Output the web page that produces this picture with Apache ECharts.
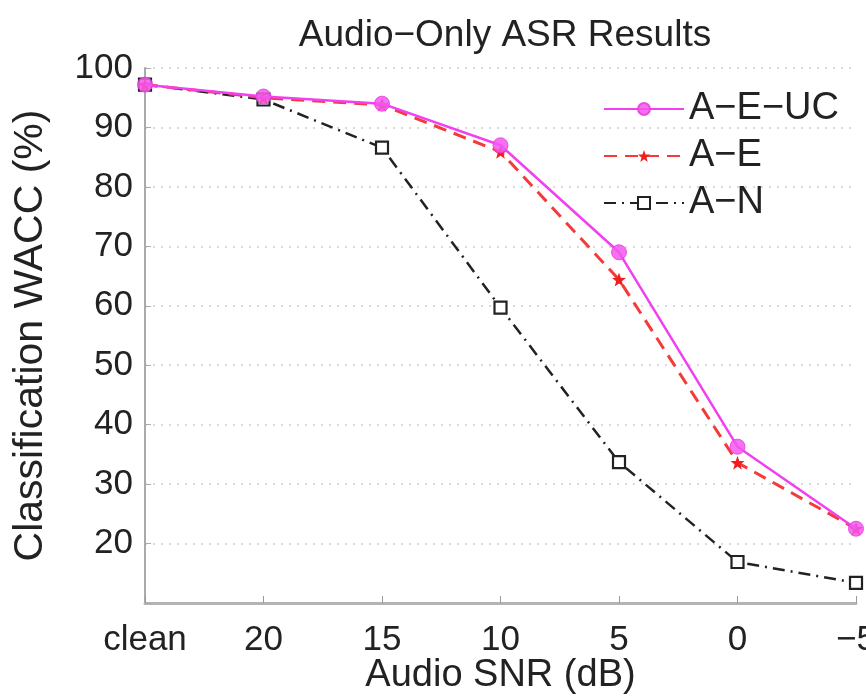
<!DOCTYPE html>
<html>
<head>
<meta charset="utf-8">
<script src="https://cdn.jsdelivr.net/npm/echarts@6/dist/echarts.min.js"></script>
<style>html,body{margin:0;padding:0;background:#fff}#c{width:866px;height:696px}</style>
</head>
<body>
<div id="c"></div>
<script>
const categories = ['clean', '20', '15', '10', '5', '0', '\u22125'];
const aeuc = [97.2, 95.2, 94.0, 87.0, 69.0, 36.3, 22.5];
const ae = [97.2, 95.0, 93.8, 85.9, 64.4, 33.6, 22.5];
const an = [97.2, 94.7, 86.6, 59.7, 33.7, 16.9, 13.4];
const yTicks = [20, 30, 40, 50, 60, 70, 80, 90, 100];

const FONT = '"Liberation Sans", Arial, sans-serif';
const starPath = 'path://M0,-10 L2.4,-3.3 L9.5,-3.1 L3.9,1.3 L5.9,8.1 L0,4.1 L-5.9,8.1 L-3.9,1.3 L-9.5,-3.1 L-2.4,-3.3 Z';

const chart = echarts.init(document.getElementById('c'), null, {renderer: 'canvas'});
chart.setOption({
  backgroundColor: '#fff',
  animation: false,
  title: {
    text: 'Audio\u2212Only ASR Results',
    left: 500, top: 11, textAlign: 'center',
    textStyle: {fontFamily: FONT, fontSize: 37, fontWeight: 'normal', color: '#222', lineHeight: 40}
  },
  legend: {
    orient: 'vertical', left: 598, top: 85, itemGap: 9,
    itemWidth: 80, itemHeight: 15,
    textStyle: {fontFamily: FONT, fontSize: 38, color: '#222', lineHeight: 38, padding: [0, 0, 0, 0]},
    data: ['A\u2212E\u2212UC', 'A\u2212E', 'A\u2212N']
  },
  grid: {left: 145, right: 10, top: 68, bottom: 93, containLabel: false, outerBoundsMode: 'none'},
  xAxis: {
    type: 'category', data: categories, boundaryGap: false,
    name: 'Audio SNR (dB)', nameLocation: 'middle', nameGap: 54, nameMoveOverlap: false,
    nameTextStyle: {fontFamily: FONT, fontSize: 38, color: '#222'},
    axisLine: {lineStyle: {color: '#b4b4b4', width: 3}},
    axisTick: {inside: true, length: 7, lineStyle: {color: '#999'}},
    axisLabel: {fontFamily: FONT, fontSize: 35, color: '#222', margin: 20},
    splitLine: {show: false}
  },
  yAxis: {
    type: 'value', min: 10, max: 100, interval: 10,
    name: 'Classification WACC (%)', nameLocation: 'middle', nameGap: 94, nameMoveOverlap: false,
    nameTextStyle: {fontFamily: FONT, fontSize: 41, color: '#222'},
    axisLine: {show: true, lineStyle: {color: '#aaa', width: 2}},
    axisTick: {show: true, inside: true, length: 6, lineStyle: {color: '#aaa'}},
    axisLabel: {
      fontFamily: FONT, fontSize: 35, color: '#222', margin: 12,
      formatter: v => (yTicks.indexOf(v) >= 0 ? String(v) : '')
    },
    splitLine: {show: true, lineStyle: {color: '#cfcfcf', type: [2, 6], width: 1.5}}
  },
  series: [
    {
      name: 'A\u2212N', type: 'line', data: an, z: 2,
      symbol: 'rect', symbolSize: 12,
      lineStyle: {color: '#222', width: 2.5, type: [12, 6, 2, 6]},
      itemStyle: {color: '#fff', borderColor: '#222', borderWidth: 2.2}
    },
    {
      name: 'A\u2212E', type: 'line', data: ae, z: 3,
      symbol: starPath, symbolSize: 14,
      lineStyle: {color: '#f53a3a', width: 3, type: [13, 8]},
      itemStyle: {color: '#f01e1e'}
    },
    {
      name: 'A\u2212E\u2212UC', type: 'line', data: aeuc, z: 4,
      symbol: 'circle', symbolSize: 15,
      lineStyle: {color: '#f040f0', width: 2.5},
      itemStyle: {color: '#f458ee', borderColor: '#e83ce0', borderWidth: 1, opacity: 0.85}
    }
  ]
});
</script>
</body>
</html>
